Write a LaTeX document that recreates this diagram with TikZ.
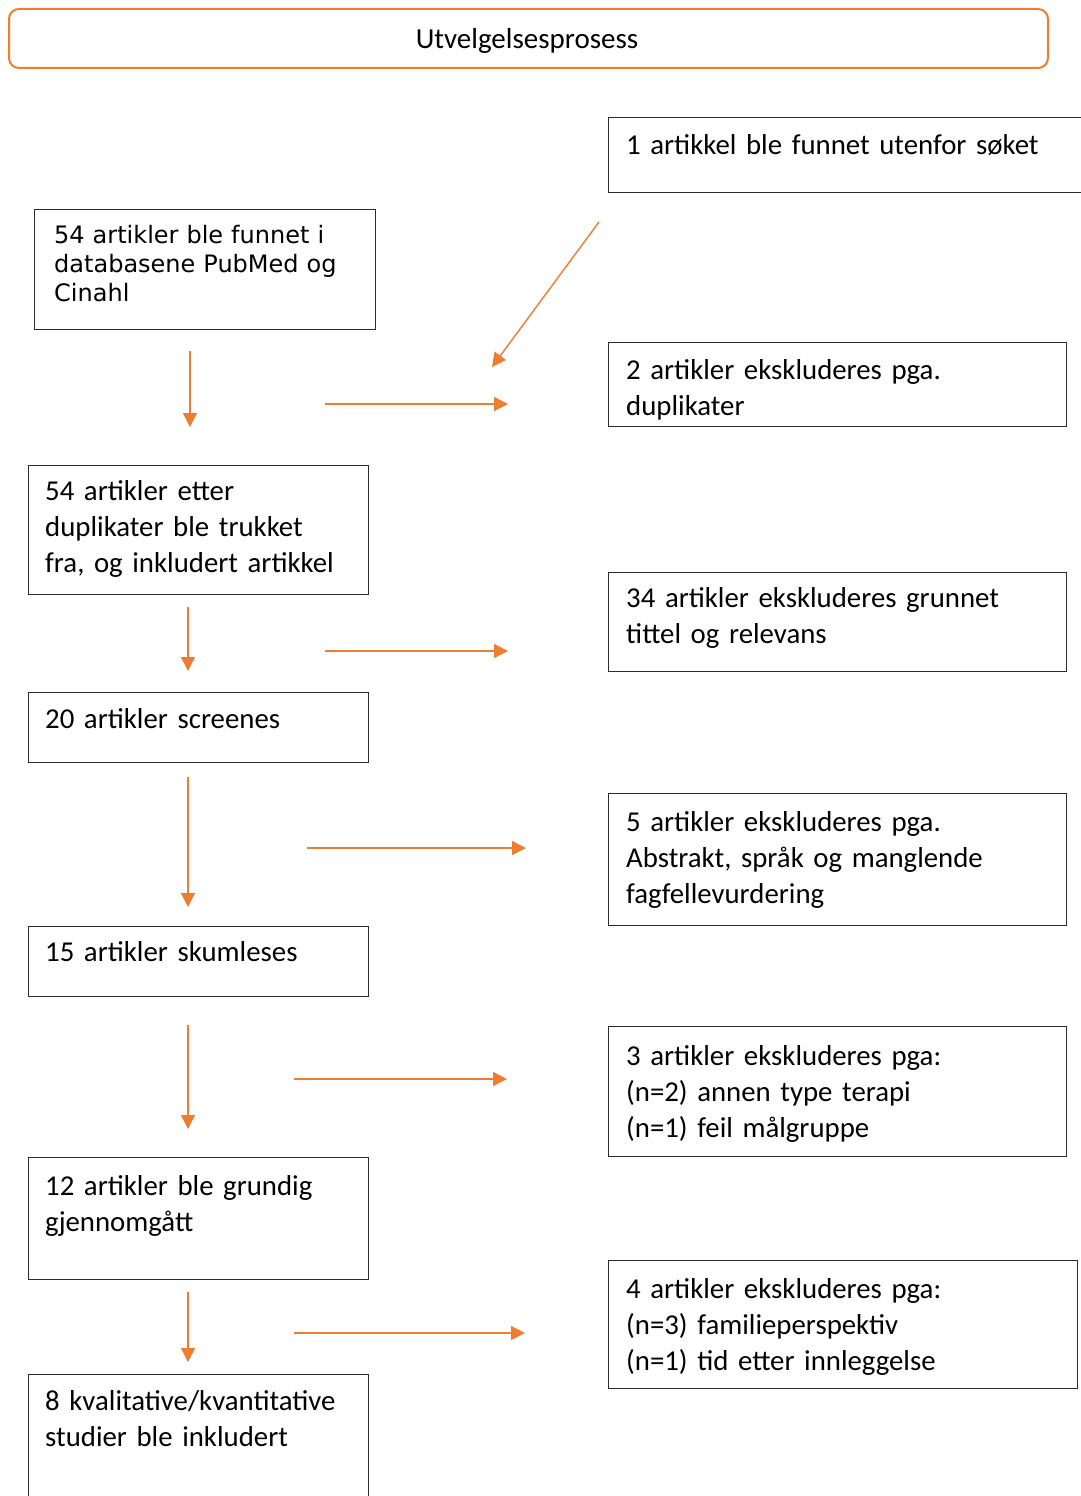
\documentclass[tikz,border=0pt]{standalone}
\usepackage{fontspec}
\setmainfont[WordSpace=0.75]{Carlito}
\newfontfamily\verdfont{DejaVu Sans}
\usetikzlibrary{arrows.meta}
\definecolor{orng}{HTML}{ED7D31}
\definecolor{boxc}{HTML}{2B2B2B}
\begin{document}
\begin{tikzpicture}[x=1pt,y=-1pt,
  box/.style={draw=boxc, line width=1.3pt, inner sep=0pt, anchor=north west},
  txt/.style={inner sep=0pt, anchor=base west, align=left, text width=440pt,
              font=\fontsize{28.8}{36}\selectfont},
  vtxt/.style={inner sep=0pt, anchor=base west, align=left, text width=330pt,
              font=\verdfont\fontsize{24}{29}\selectfont},
  arr/.style={draw=orng, line width=1.4pt, -{Triangle[length=14pt,width=14pt]}, fill=orng}]
\useasboundingbox (0,0) rectangle (1080,1496);
\fill[white] (0,0) rectangle (1080,1496);

% title
\node[draw=orng, line width=2pt, rounded corners=10pt, minimum width=1039pt,
      minimum height=59pt, anchor=north west] (title) at (8,8) {};
\node[inner sep=0pt, font=\fontsize{29}{36}\selectfont] (titletxt) at (527,41) {Utvelgelsesprosess};

% right column boxes
\node[box, minimum width=480pt, minimum height=75pt] (bA) at (608,117) {};
\node[txt] (tA) at (626,154) {1 artikkel ble funnet utenfor søket};

\node[box, minimum width=458pt, minimum height=84pt] (bC) at (608,342) {};
\node[txt] (tC) at (626,379) {2 artikler ekskluderes pga.\\duplikater};

\node[box, minimum width=458pt, minimum height=99pt] (bE) at (608,572) {};
\node[txt] (tE) at (626,607) {34 artikler ekskluderes grunnet\\tittel og relevans};

\node[box, minimum width=458pt, minimum height=132pt] (bG) at (608,793) {};
\node[txt] (tG) at (626,831) {5 artikler ekskluderes pga.\\Abstrakt, språk og manglende\\fagfellevurdering};

\node[box, minimum width=458pt, minimum height=130pt] (bI) at (608,1026) {};
\node[txt] (tI) at (626,1065) {3 artikler ekskluderes pga:\\(n=2) annen type terapi\\(n=1) feil målgruppe};

\node[box, minimum width=469pt, minimum height=128pt] (bK) at (608,1260) {};
\node[txt] (tK) at (626,1298) {4 artikler ekskluderes pga:\\(n=3) familieperspektiv\\(n=1) tid etter innleggelse};

% left column boxes
\node[box, minimum width=341pt, minimum height=120pt] (bB) at (34,209) {};
\node[vtxt] (tB) at (54,243) {54 artikler ble funnet i\\databasene PubMed og\\Cinahl};

\node[box, minimum width=340pt, minimum height=129pt] (bD) at (28,465) {};
\node[txt] (tD) at (45,500) {54 artikler etter\\duplikater ble trukket\\fra, og inkludert artikkel};

\node[box, minimum width=340pt, minimum height=70pt] (bF) at (28,692) {};
\node[txt] (tF) at (45,728) {20 artikler screenes};

\node[box, minimum width=340pt, minimum height=70pt] (bH) at (28,926) {};
\node[txt] (tH) at (45,961) {15 artikler skumleses};

\node[box, minimum width=340pt, minimum height=122pt] (bJ) at (28,1157) {};
\node[txt] (tJ) at (45,1195) {12 artikler ble grundig\\gjennomgått};

\node[box, minimum width=340pt, minimum height=140pt] (bL) at (28,1374) {};
\node[txt] (tL) at (45,1410) {8 kvalitative/kvantitative\\studier ble inkludert};

% arrow coordinates
\coordinate (a1s) at (190,351); \coordinate (a1e) at (190,427);
\coordinate (a2s) at (325,404); \coordinate (a2e) at (508,404);
\coordinate (a3s) at (599,222); \coordinate (a3e) at (492,367);
\coordinate (a4s) at (188,607); \coordinate (a4e) at (188,671);
\coordinate (a5s) at (325,651); \coordinate (a5e) at (508,651);
\coordinate (a6s) at (188,777); \coordinate (a6e) at (188,907);
\coordinate (a7s) at (307,848); \coordinate (a7e) at (526,848);
\coordinate (a8s) at (188,1025); \coordinate (a8e) at (188,1129);
\coordinate (a9s) at (294,1079); \coordinate (a9e) at (507,1079);
\coordinate (a10s) at (188,1292); \coordinate (a10e) at (188,1362);
\coordinate (a11s) at (294,1333); \coordinate (a11e) at (525,1333);

\draw[arr] (a1s) -- (a1e);
\draw[arr] (a2s) -- (a2e);
\draw[arr] (a3s) -- (a3e);
\draw[arr] (a4s) -- (a4e);
\draw[arr] (a5s) -- (a5e);
\draw[arr] (a6s) -- (a6e);
\draw[arr] (a7s) -- (a7e);
\draw[arr] (a8s) -- (a8e);
\draw[arr] (a9s) -- (a9e);
\draw[arr] (a10s) -- (a10e);
\draw[arr] (a11s) -- (a11e);
\end{tikzpicture}
\end{document}
